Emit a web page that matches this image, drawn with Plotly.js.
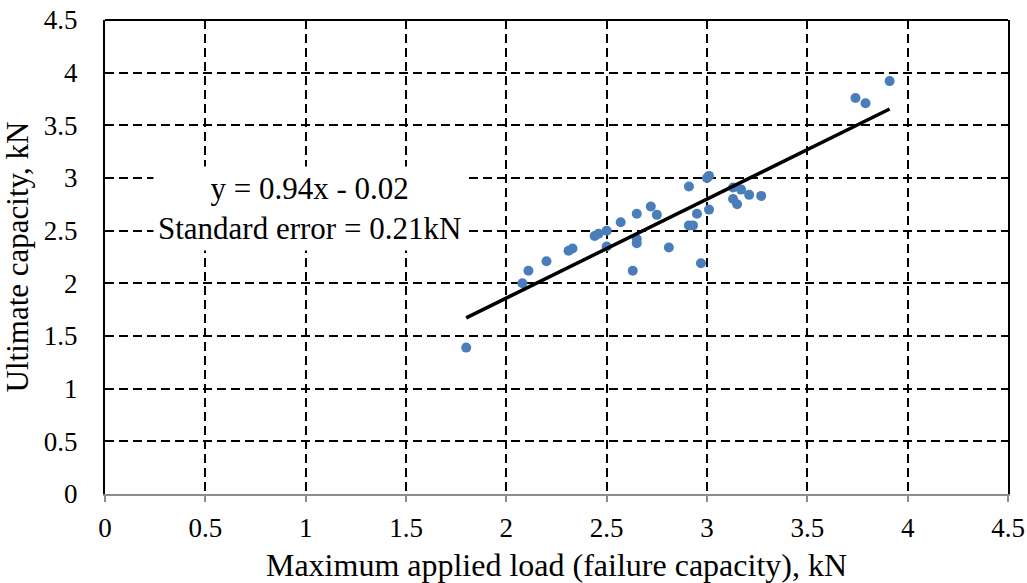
<!DOCTYPE html>
<html>
<head>
<meta charset="utf-8">
<script src="https://cdn.plot.ly/plotly-3.0.1.min.js"></script>
<style>html,body{margin:0;padding:0;background:#fff;}#chart{width:1027px;height:583px;}</style>
</head>
<body>
<div id="chart"></div>
<script>
// Maximum applied load (failure capacity), kN
const maxLoad = [1.80, 2.08, 2.11, 2.20, 2.31, 2.33, 2.44, 2.46, 2.50, 2.50, 2.57, 2.63, 2.65, 2.65, 2.65, 2.72, 2.75, 2.81, 2.91, 2.91, 2.93, 2.95, 2.97, 3.00, 3.01, 3.01, 3.13, 3.17, 3.13, 3.15, 3.21, 3.27, 3.74, 3.79, 3.91];
// Ultimate capacity, kN
const ultimate = [1.39, 2.00, 2.12, 2.21, 2.31, 2.33, 2.45, 2.47, 2.50, 2.35, 2.58, 2.12, 2.66, 2.42, 2.38, 2.73, 2.65, 2.34, 2.92, 2.55, 2.55, 2.66, 2.19, 3.00, 3.02, 2.70, 2.91, 2.89, 2.80, 2.75, 2.84, 2.83, 3.76, 3.71, 3.92];
const slope = 0.94, intercept = -0.02;
const fitX = [Math.min(...maxLoad), Math.max(...maxLoad)];
const fitY = fitX.map(v => slope * v + intercept);
const tickVals = [0, 0.5, 1, 1.5, 2, 2.5, 3, 3.5, 4, 4.5];
const tickText = ['0', '0.5', '1', '1.5', '2', '2.5', '3', '3.5', '4', '4.5'];
const annotationText = 'y = 0.94x - 0.02<br>Standard error = 0.21kN';

const font = 'Liberation Serif, Times New Roman, serif';
const traces = [
  {x: maxLoad, y: ultimate, mode: 'markers', type: 'scatter',
   marker: {color: '#4a7ebb', size: 10}, hoverinfo: 'x+y'},
  {x: fitX, y: fitY, mode: 'lines', type: 'scatter',
   line: {color: '#000', width: 3.5}}
];
const layout = {
  width: 1027, height: 583,
  margin: {l: 105, r: 19, t: 20, b: 89},
  paper_bgcolor: '#fff', plot_bgcolor: '#fff',
  showlegend: false,
  font: {family: font, color: '#000', size: 27},
  xaxis: {
    range: [0, 4.5], tickvals: tickVals, ticktext: tickText,
    showgrid: true, gridcolor: '#000', griddash: '9px,5px', gridwidth: 2,
    zeroline: false, showline: true, linecolor: '#8c8c8c', linewidth: 2,
    ticks: 'outside', tickcolor: '#8c8c8c', ticklen: 6, tickwidth: 2,
    ticklabelstandoff: 3, automargin: false,
    tickfont: {family: font, size: 27, color: '#000'},
    title: {text: 'Maximum applied load (failure capacity), kN', font: {family: font, size: 32}, standoff: 12}
  },
  yaxis: {
    range: [0, 4.5], tickvals: tickVals, ticktext: tickText,
    showgrid: true, gridcolor: '#000', griddash: '9px,5px', gridwidth: 2,
    zeroline: false, showline: true, linecolor: '#000', linewidth: 2, mirror: true,
    ticks: '', ticklen: 0, ticklabelstandoff: 20, automargin: false,
    tickfont: {family: font, size: 27, color: '#000'},
    title: {text: 'Ultimate capacity, kN', font: {family: font, size: 31}, standoff: 12}
  },
  shapes: [
    {type: 'line', xref: 'paper', yref: 'paper', x0: 0, x1: 1, y0: 1, y1: 1,
     line: {color: '#000', width: 2}}
  ],
  annotations: [
    {x: 1.02, y: 2.715, xref: 'x', yref: 'y', text: annotationText, showarrow: false,
     bgcolor: '#fff', font: {family: font, size: 31, color: '#000'},
     align: 'center', borderpad: 4}
  ]
};
Plotly.newPlot('chart', traces, layout, {displayModeBar: false, staticPlot: true});
</script>
</body>
</html>
